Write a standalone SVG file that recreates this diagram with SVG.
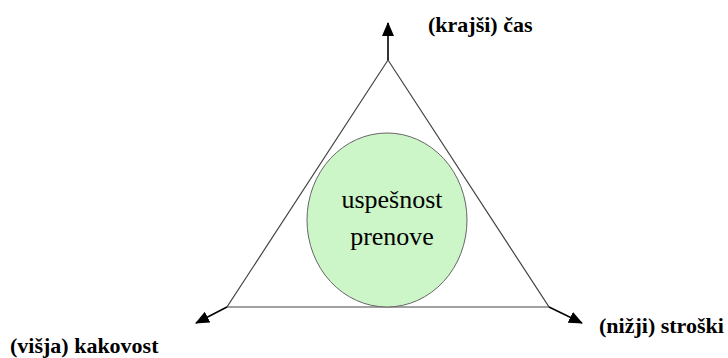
<svg xmlns="http://www.w3.org/2000/svg" width="728" height="358" viewBox="0 0 728 358" font-family="Times New Roman">
<defs>
<marker id="ah" viewBox="0 0 14 12" refX="13" refY="6" markerWidth="14" markerHeight="12" markerUnits="userSpaceOnUse" orient="auto">
<path d="M0,0 L14,6 L0,12 z" fill="#000"/>
</marker>
</defs>
<rect width="728" height="358" fill="#ffffff"/>
<g id="triangle">
<polygon points="388,60 227,307 549,307" fill="none" stroke="#444" stroke-width="1.2"/>
</g>
<g id="center">
<ellipse cx="387" cy="220" rx="80" ry="87" fill="#ccf5c8" stroke="#666" stroke-width="1"/>
<text x="392" y="208" text-anchor="middle" font-family="Times New Roman" font-size="26">uspešnost</text>
<text x="392" y="245" text-anchor="middle" font-family="Times New Roman" font-size="26">prenove</text>
</g>
<g id="connectors" stroke="#000" stroke-width="1.6" fill="none">
<line x1="388" y1="60" x2="388" y2="23" marker-end="url(#ah)"/>
<line x1="227" y1="307" x2="196" y2="323" marker-end="url(#ah)"/>
<line x1="549" y1="307" x2="582" y2="323" marker-end="url(#ah)"/>
</g>
<g id="time"><text x="428" y="32" font-family="Times New Roman" font-size="22" font-weight="bold">(krajši) čas</text></g>
<g id="cost"><text x="599" y="333" font-family="Times New Roman" font-size="22" font-weight="bold">(nižji) stroški</text></g>
<g id="quality"><text x="10" y="353" font-family="Times New Roman" font-size="22" font-weight="bold">(višja) kakovost</text></g>
</svg>
